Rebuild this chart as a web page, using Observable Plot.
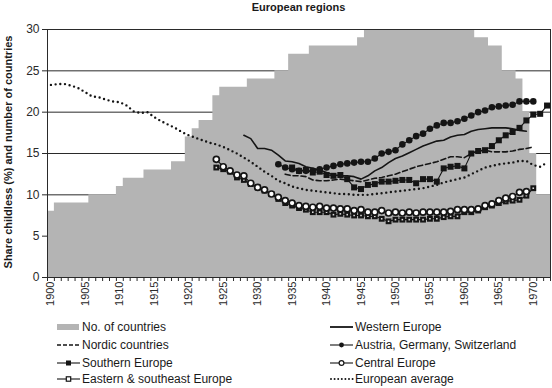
<!DOCTYPE html>
<html><head><meta charset="utf-8">
<script src="https://cdn.jsdelivr.net/npm/d3@7"></script>
<script src="https://cdn.jsdelivr.net/npm/@observablehq/plot@0.6"></script>
<style>
body{margin:0;background:#fff;font-family:"Liberation Sans",Arial,sans-serif;color:#1a1a1a;}
#wrap{position:relative;width:552px;height:388px;overflow:hidden;}
#title{position:absolute;left:47px;width:503px;top:1px;text-align:center;font-weight:bold;font-size:11px;}
#chart{position:absolute;left:0;top:18px;}
#ylab{position:absolute;left:8px;top:152px;width:260px;margin-left:-130px;text-align:center;font-weight:bold;font-size:11px;transform:translateY(-50%) rotate(-90deg);white-space:nowrap;}
.lg{position:absolute;height:16px;display:flex;align-items:center;font-size:12px;white-space:nowrap;}
.lg svg{margin-right:1px;}
</style></head>
<body><div id="wrap">
<div id="title">European regions</div>
<div id="ylab">Share childless (%) and number of countries</div>
<div id="chart"></div>
<div id="legend"></div>
</div>
<script>
// Number of countries per cohort year, 1900-1972
const countryStart = 1900;
const countries = [8,9,9,9,9,9,10,10,10,10,11,12,12,12,13,13,13,13,14,14,17,18,19,19,22,23,23,23,23,24,24,24,24,25,25,27,27,27,28,28,28,28,28,28,28,29,30,30,30,30,30,30,30,30,30,30,30,30,30,30,30,30,29,29,28,28,25,25,24,20,15,10,10];

const avgStart = 1900;
const avgVals = [23.3,23.4,23.4,23.2,22.9,22.4,21.9,21.8,21.5,21.3,
 21.2,20.8,20.1,19.9,20.0,19.4,18.9,18.5,18.1,17.6,
 17.2,16.9,16.6,16.3,16.1,15.8,15.4,15.0,14.5,14.0,
 13.4,12.8,12.3,11.7,11.4,11.0,10.8,10.6,10.5,10.4,
 10.3,10.2,10.1,10.1,10.0,10.0,10.0,10.1,10.2,10.3,
 10.4,10.5,10.6,10.7,10.8,11.0,11.2,11.5,11.7,11.9,
 12.1,12.5,12.9,13.3,13.5,13.7,13.8,13.9,14.1,14.1,
 13.6,13.4,13.9];

const westStart = 1928;
const westVals = [17.2,16.8,15.6,15.6,15.4,14.8,14.1,14.0,13.8,13.4,
 13.2,13.0,12.7,12.4,12.3,12.3,12.2,11.9,12.3,12.9,
 13.3,13.9,14.4,14.7,15.1,15.5,15.9,16.2,16.5,16.6,
 17.0,17.2,17.3,17.7,17.9,18.0,18.1,18.1,18.1,18.0,
 17.8,17.7];

const nordicStart = 1934;
const nordicVals = [12.5,12.3,12.3,12.2,11.8,11.7,11.7,11.8,11.9,11.8,
 11.7,11.6,11.8,12.0,12.1,12.3,12.5,12.8,13.1,13.4,
 13.6,13.8,14.0,14.3,14.6,14.6,14.5,15.0,15.3,15.4,
 15.2,15.2,15.2,15.3,15.5,15.6,15.8];

const southStart = 1935;
const southVals = [13.3,12.9,13.0,12.7,12.8,12.4,12.3,12.4,11.9,10.9,
 10.7,11.2,11.3,11.6,11.6,11.7,11.8,11.8,11.4,11.9,
 11.9,11.6,13.2,13.4,13.5,13.2,15.0,15.3,15.4,15.9,
 16.6,17.2,17.6,18.1,19.0,19.7,19.8,20.8];

const agsStart = 1933;
const agsVals = [13.7,13.3,13.1,12.9,12.9,12.9,13.1,13.3,13.5,13.7,
 13.8,13.9,14.0,14.0,14.4,15.0,15.2,15.4,16.1,16.6,
 17.1,17.4,18.0,18.4,18.7,18.7,18.9,19.2,19.6,20.0,
 20.2,20.6,20.7,20.8,20.9,21.3,21.3,21.3];

const centralStart = 1924;
const centralVals = [14.3,13.4,12.9,12.4,12.3,11.4,10.9,10.6,10.1,9.7,
 9.3,9.0,8.7,8.6,8.5,8.6,8.4,8.4,8.3,8.3,
 8.1,8.2,7.9,7.9,8.1,7.8,7.9,7.8,7.9,7.8,
 7.9,7.9,7.9,7.9,8.0,8.2,8.2,8.2,8.3,8.7,
 8.9,9.3,9.6,9.8,10.3,10.4];

const eastStart = 1924;
const eastVals = [13.3,13.1,12.8,12.1,11.8,11.3,10.9,10.5,10.1,9.5,
 9.0,8.7,8.4,8.2,7.9,7.9,7.9,7.6,7.7,7.6,
 7.5,7.5,7.4,7.4,7.1,6.8,7.0,7.0,7.0,7.0,
 7.0,7.1,7.1,7.3,7.4,7.4,7.9,7.9,8.1,8.5,
 8.7,9.0,9.2,9.3,9.4,9.9,10.8];

const yTicks = [0,5,10,15,20,25,30];
const xLabelYears = [1900,1905,1910,1915,1920,1925,1930,1935,1940,1945,1950,1955,1960,1965,1970];

const legendItems = [
  {label:"No. of countries", kind:"bar", col:0, row:0},
  {label:"Nordic countries", kind:"dash", col:0, row:1},
  {label:"Southern Europe", kind:"sq", col:0, row:2},
  {label:"Eastern & southeast Europe", kind:"osq", col:0, row:3},
  {label:"Western Europe", kind:"solid", col:1, row:0},
  {label:"Austria, Germany, Switzerland", kind:"dot", col:1, row:1},
  {label:"Central Europe", kind:"ocirc", col:1, row:2},
  {label:"European average", kind:"dotted", col:1, row:3}
];

const ser = (start, vals) => vals.map((v, i) => ({year: start + i, value: v}));

const stepData = countries.map((n, i) => ({x: countryStart + i - 0.5, y: n}));
stepData.push({x: countryStart + countries.length - 0.5, y: countries[countries.length - 1]});
const bounds = stepData.map(d => d.x);

const avg = ser(avgStart, avgVals);
const west = ser(westStart, westVals);
const nordic = ser(nordicStart, nordicVals);
const south = ser(southStart, southVals);
const ags = ser(agsStart, agsVals);
const central = ser(centralStart, centralVals);
const east = ser(eastStart, eastVals);

const K = "#151515";
const chart = Plot.plot({
  width: 552, height: 300,
  marginLeft: 47, marginRight: 2, marginTop: 11, marginBottom: 41,
  x: {type: "linear", domain: [1899.5, 1972.5]},
  y: {domain: [0, 30]},
  style: {fontFamily: "Liberation Sans, Arial, sans-serif", color: "#2a2a2a", background: "transparent", overflow: "visible"},
  marks: [
    Plot.ruleY([5,10,15,20,25], {stroke: "#2a2a2a", strokeWidth: 1}),
    Plot.areaY(stepData, {x: "x", y: "y", curve: "step-after", fill: "#b4b4b4"}),
    Plot.frame({stroke: "#2a2a2a"}),
    Plot.line(avg, {x: "year", y: "value", stroke: K, strokeWidth: 2.4, strokeDasharray: "0,4.7", strokeLinecap: "round"}),
    Plot.line(west, {x: "year", y: "value", stroke: K, strokeWidth: 1.6}),
    Plot.line(nordic, {x: "year", y: "value", stroke: K, strokeWidth: 1.6, strokeDasharray: "5,3"}),
    Plot.line(south, {x: "year", y: "value", stroke: K, strokeWidth: 1.1}),
    Plot.dot(south, {x: "year", y: "value", symbol: "square", r: 3.4, fill: K}),
    Plot.line(ags, {x: "year", y: "value", stroke: K, strokeWidth: 1.1}),
    Plot.dot(ags, {x: "year", y: "value", symbol: "circle", r: 3.3, fill: K}),
    Plot.line(east, {x: "year", y: "value", stroke: K, strokeWidth: 1.1}),
    Plot.dot(east, {x: "year", y: "value", symbol: "square", r: 3.3, fill: K}),
    Plot.dot(east, {x: "year", y: "value", symbol: "square", r: 0.9, fill: "#ddd"}),
    Plot.line(central, {x: "year", y: "value", stroke: K, strokeWidth: 1.1}),
    Plot.dot(central, {x: "year", y: "value", symbol: "circle", r: 3, fill: "#fff", stroke: K, strokeWidth: 1.7}),
    Plot.axisY({ticks: yTicks, tickSize: 5, tickPadding: 3, fontSize: 12, label: null, stroke: "#2a2a2a"}),
    Plot.axisX({ticks: bounds, tickSize: 4, tickFormat: () => "", label: null, stroke: "#2a2a2a"}),
    Plot.axisX({ticks: xLabelYears, tickSize: 0, tickPadding: 4, tickRotate: -90, fontSize: 11, tickFormat: d => String(d), label: null})
  ]
});
document.getElementById("chart").appendChild(chart);

// legend
const rowY = [319, 337, 355, 371];
const colX = [57, 330];
function sym(kind) {
  const w = 24, h = 12, c = h / 2;
  let s = "";
  if (kind === "bar") s = `<rect x="0" y="${c-3}" width="22" height="6" fill="#b4b4b4"/>`;
  else if (kind === "dash") s = `<line x1="0" x2="23" y1="${c}" y2="${c}" stroke="${K}" stroke-width="1.6" stroke-dasharray="4,2"/>`;
  else if (kind === "solid") s = `<line x1="0" x2="23" y1="${c}" y2="${c}" stroke="${K}" stroke-width="1.8"/>`;
  else if (kind === "dotted") s = `<line x1="1" x2="23" y1="${c}" y2="${c}" stroke="${K}" stroke-width="2" stroke-dasharray="0,3.6" stroke-linecap="round"/>`;
  else {
    s = `<line x1="0" x2="23" y1="${c}" y2="${c}" stroke="${K}" stroke-width="1.1"/>`;
    if (kind === "sq") s += `<rect x="9" y="${c-2.5}" width="5" height="5" fill="${K}"/>`;
    if (kind === "osq") s += `<rect x="9.3" y="${c-2.2}" width="4.4" height="4.4" fill="#fff" stroke="${K}" stroke-width="1.2"/>`;
    if (kind === "dot") s += `<circle cx="11.5" cy="${c}" r="2.4" fill="${K}"/>`;
    if (kind === "ocirc") s += `<circle cx="11.5" cy="${c}" r="2.4" fill="#fff" stroke="${K}" stroke-width="1.2"/>`;
  }
  return `<svg width="${w}" height="${h}">${s}</svg>`;
}
const lg = document.getElementById("legend");
for (const it of legendItems) {
  const d = document.createElement("div");
  d.className = "lg";
  d.style.left = colX[it.col] + "px";
  d.style.top = rowY[it.row] + "px";
  d.innerHTML = sym(it.kind) + `<span>${it.label.replace(/&/g, "&amp;")}</span>`;
  lg.appendChild(d);
}
</script>
</body></html>
